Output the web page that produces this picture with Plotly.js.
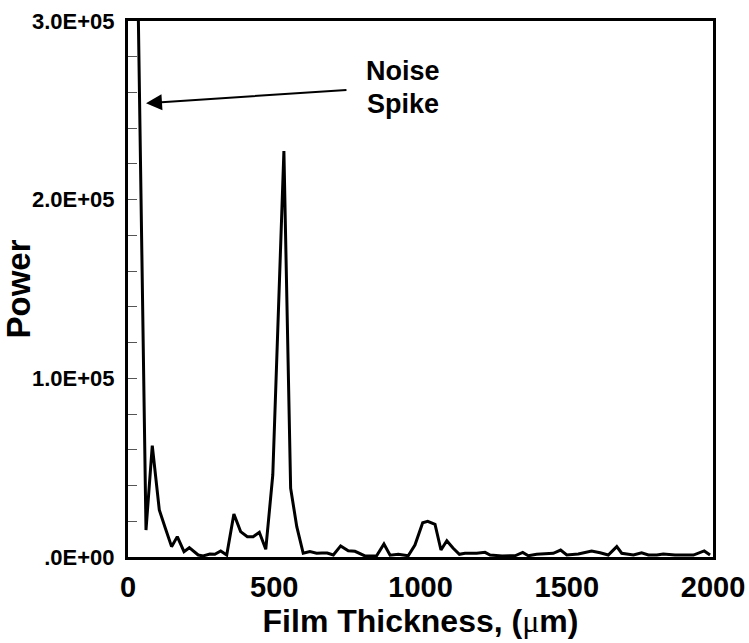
<!DOCTYPE html>
<html>
<head>
<meta charset="utf-8">
<script src="https://cdn.plot.ly/plotly-3.0.1.min.js"></script>
<style>html,body{margin:0;padding:0;background:#fff;}</style>
</head>
<body>
<div id="chart" style="width:749px;height:643px;"></div>
<script>
// Film thickness (µm) and power values
const thickness = [20, 61.5, 83, 107, 128, 149, 168.5, 191.5, 209.6, 240, 257, 280, 297, 317, 337.5,
  362, 385, 408, 428, 449, 471, 495, 533, 556, 577, 599, 622, 645, 663, 681, 702, 727, 753, 776, 810,
  827, 850, 875, 896, 924, 958, 981, 1007.5, 1024.7, 1049.7, 1070, 1090, 1111, 1133, 1152, 1192, 1220.6,
  1238, 1279, 1323, 1349.5, 1368.6, 1397, 1431.5, 1454, 1479, 1500, 1539.6, 1585, 1614, 1642, 1671,
  1688, 1728, 1756, 1779, 1808, 1830, 1870, 1933, 1970, 1990];
const power = [470000, 15100, 62300, 26300, 16000, 5800, 11400, 3000, 5200, 1100, 600, 1700, 1500, 3400, 1100,
  24100, 14200, 11400, 11400, 13800, 4300, 45900, 227200, 38500, 17000, 2100, 3000, 2100, 2300, 2200, 1100, 6200, 3500, 3200, 600,
  800, 700, 7300, 1000, 1500, 700, 6700, 19200, 20000, 18300, 3900, 9100, 5000, 1500, 2100, 2100, 2600,
  1100, 600, 700, 2600, 700, 1500, 1700, 2100, 3900, 1100, 1700, 3400, 2400, 1100, 5800,
  2100, 1100, 2400, 1100, 1100, 1700, 1100, 1100, 3400, 1100];

const yTickVals = [0, 100000, 200000, 300000];
const yTickText = ['.0E+00', '1.0E+05', '2.0E+05', '3.0E+05'];
const xTickVals = [0, 500, 1000, 1500, 2000];
const xTickText = ['0', '500', '1000', '1500', '2000'];

const FONT = 'Liberation Sans, Arial, sans-serif';

const trace = {
  x: thickness,
  y: power,
  type: 'scatter',
  mode: 'lines',
  line: {color: '#000', width: 3},
  hoverinfo: 'skip'
};

const layout = {
  width: 749,
  height: 643,
  margin: {l: 128, r: 36, t: 21, b: 86},
  paper_bgcolor: '#fff',
  plot_bgcolor: '#fff',
  showlegend: false,
  font: {family: FONT, color: '#000'},
  xaxis: {
    range: [0, 2000],
    tickmode: 'array',
    tickvals: xTickVals,
    ticktext: xTickText,
    ticks: '',
    showgrid: false,
    zeroline: false,
    showline: true,
    linecolor: '#000',
    linewidth: 3,
    mirror: true,
    tickfont: {family: FONT, size: 29, color: '#000', weight: 'bold'},
    ticklabelstandoff: 2,
    title: {
      text: 'Film Thickness, (<span style="font-family:\'Liberation Serif\',serif;font-weight:normal">μ</span>m)',
      font: {family: FONT, size: 32, color: '#000', weight: 'bold'},
      standoff: 0
    }
  },
  yaxis: {
    range: [0, 300000],
    tickmode: 'array',
    tickvals: yTickVals,
    ticktext: yTickText,
    ticks: 'inside',
    ticklen: 9,
    tickwidth: 1,
    tickcolor: '#555',
    minor: {tickmode: 'linear', tick0: 0, dtick: 20000, ticks: 'inside', ticklen: 9, tickwidth: 1, tickcolor: '#555'},
    showgrid: false,
    zeroline: false,
    showline: true,
    linecolor: '#000',
    linewidth: 3,
    mirror: true,
    tickfont: {family: FONT, size: 22, color: '#000', weight: 'bold'},
    ticklabelstandoff: 6,
    title: {
      text: 'Power',
      font: {family: FONT, size: 33, color: '#000', weight: 'bold'},
      standoff: 4
    }
  },
  annotations: [
    {
      x: 61.5, y: 254000, xref: 'x', yref: 'y',
      ax: 752, ay: 261400, axref: 'x', ayref: 'y',
      text: '', showarrow: true,
      arrowhead: 2, arrowsize: 1.6, arrowwidth: 2, arrowcolor: '#000'
    },
    {
      x: 940, y: 272000, xref: 'x', yref: 'y',
      text: 'Noise', showarrow: false,
      font: {family: FONT, size: 27, color: '#000', weight: 'bold'}
    },
    {
      x: 940, y: 253500, xref: 'x', yref: 'y',
      text: 'Spike', showarrow: false,
      font: {family: FONT, size: 27, color: '#000', weight: 'bold'}
    }
  ]
};

Plotly.newPlot('chart', [trace], layout, {displayModeBar: false, staticPlot: true});
</script>
</body>
</html>
